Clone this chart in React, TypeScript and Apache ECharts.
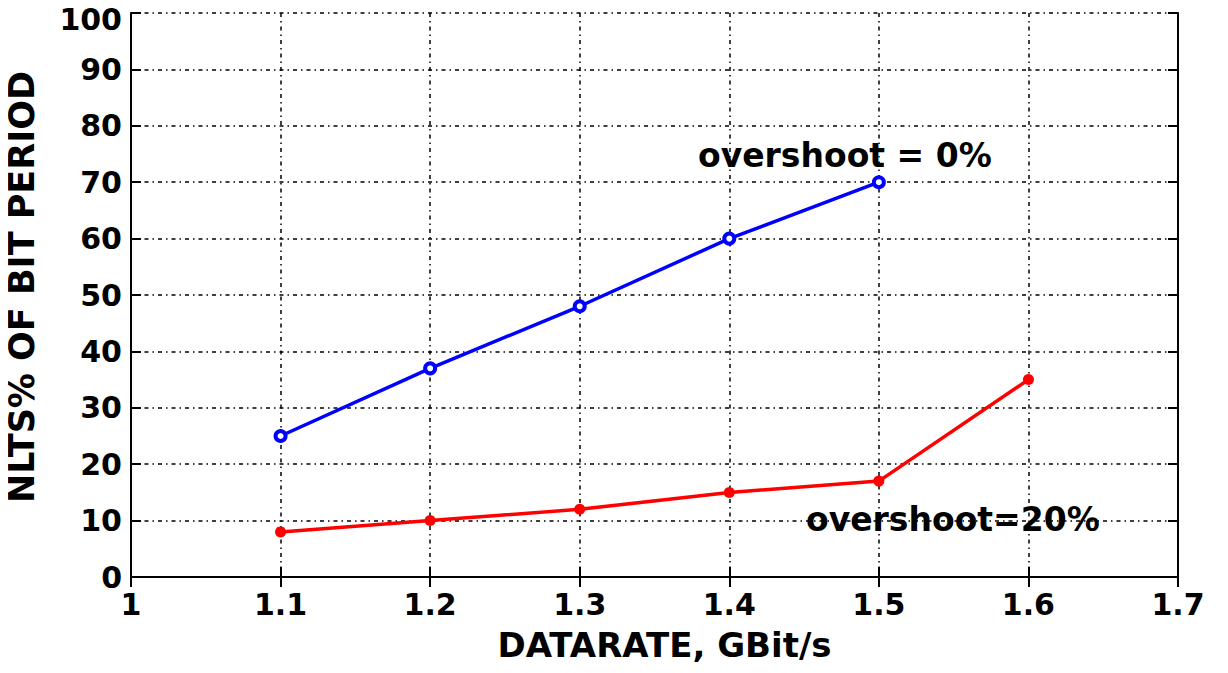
import React, { useEffect, useRef } from "react";
import * as echarts from "echarts";

const xTicks = [1, 1.1, 1.2, 1.3, 1.4, 1.5, 1.6, 1.7];
const blueX = [1.1, 1.2, 1.3, 1.4, 1.5];
const blueY = [25, 37, 48, 60, 70];
const redX = [1.1, 1.2, 1.3, 1.4, 1.5, 1.6];
const redY = [8, 10, 12, 15, 17, 35];
const labels = ["overshoot = 0%", "overshoot=20%"];

const FONT = "DejaVu Sans";

export default function App() {
  const ref = useRef<HTMLDivElement>(null);
  useEffect(() => {
    if (!ref.current) return;
    const chart = echarts.init(ref.current, undefined, { renderer: "svg" });
    const grid = { left: 131, right: 50, top: 13, bottom: 96, outerBoundsMode: "none", containLabel: false };
    const gridLine = {
      show: true,
      lineStyle: { color: "#000", width: 1.5, type: [4, 4, 1.5, 4] as any },
    };
    const tickLabel = {
      color: "#000",
      fontFamily: FONT,
      fontWeight: "bold" as const,
      fontSize: 30,
      lineHeight: 24,
    };
    chart.setOption({
      animation: false,
      backgroundColor: "#fff",
      grid,
      xAxis: [
        {
          type: "value",
          min: 1,
          max: 1.7,
          interval: 0.1,
          name: "DATARATE, GBit/s",
          nameLocation: "middle",
          nameGap: 51,
          nameTextStyle: {
            color: "#000",
            fontFamily: FONT,
            fontWeight: "bold",
            fontSize: 34,
            padding: [0, 0, 0, 20],
          },
          axisLine: { show: true, lineStyle: { color: "#000", width: 2 } },
          axisTick: { show: true, inside: true, length: 10, lineStyle: { color: "#000", width: 2 } },
          axisLabel: {
            ...tickLabel,
            margin: 15,
            formatter: (v: number) => {
              const r = Math.round(v * 10) / 10;
              return xTicks.includes(r) ? String(r) : "";
            },
          },
          splitLine: gridLine,
        },
        {
          type: "value",
          position: "top",
          min: 1,
          max: 1.7,
          interval: 0.1,
          axisLine: { show: true, lineStyle: { color: "#000", width: 2 } },
          axisTick: { show: true, inside: true, length: 10, lineStyle: { color: "#000", width: 2 } },
          axisLabel: { show: false },
          splitLine: { show: false },
        },
      ],
      yAxis: [
        {
          type: "value",
          min: 0,
          max: 100,
          interval: 10,
          name: "NLTS% OF BIT PERIOD",
          nameLocation: "middle",
          nameGap: 92,
          nameTextStyle: {
            color: "#000",
            fontFamily: FONT,
            fontWeight: "bold",
            fontSize: 35,
            padding: [0, 0, 0, 16],
          },
          axisLine: { show: true, lineStyle: { color: "#000", width: 2 } },
          axisTick: { show: true, inside: true, length: 10, lineStyle: { color: "#000", width: 2 } },
          axisLabel: {
            ...tickLabel,
            margin: 9,
            formatter: (v: number) => (v === 100 ? `{t|${v}}` : String(v)),
            rich: {
              t: {
                color: "#000",
                fontFamily: FONT,
                fontWeight: "bold",
                fontSize: 30,
                lineHeight: 12,
                padding: [12, 0, 0, 0],
              },
            },
          },
          splitLine: gridLine,
        },
        {
          type: "value",
          position: "right",
          min: 0,
          max: 100,
          interval: 10,
          axisLine: { show: true, lineStyle: { color: "#000", width: 2 } },
          axisTick: { show: true, inside: true, length: 10, lineStyle: { color: "#000", width: 2 } },
          axisLabel: { show: false },
          splitLine: { show: false },
        },
      ],
      series: [
        {
          type: "line",
          data: blueX.map((x, i) => [x, blueY[i]]),
          lineStyle: { color: "#0000ff", width: 3.5 },
          itemStyle: { color: "#ffffff", borderColor: "#0000ff", borderWidth: 4 },
          symbol: "circle",
          symbolSize: 10,
        },
        {
          type: "line",
          data: redX.map((x, i) => [x, redY[i]]),
          lineStyle: { color: "#ff0000", width: 3.5 },
          itemStyle: { color: "#ff0000" },
          symbol: "circle",
          symbolSize: 11,
        },
      ],
      graphic: [
        {
          type: "text",
          left: 698,
          top: 139,
          style: { text: labels[0], fill: "#000", font: `bold 33px "${FONT}"` },
        },
        {
          type: "text",
          left: 806,
          top: 503,
          style: { text: labels[1], fill: "#000", font: `bold 33px "${FONT}"` },
        },
      ],
    });
    return () => chart.dispose();
  }, []);
  return <div ref={ref} style={{ width: 1228, height: 673, margin: -8 }} />;
}
